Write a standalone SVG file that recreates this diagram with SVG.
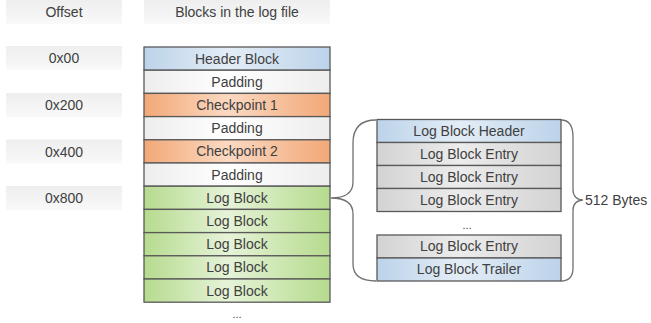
<svg xmlns="http://www.w3.org/2000/svg" width="651" height="323" viewBox="0 0 651 323">
  <defs>
    <linearGradient id="gBlue" x1="0" y1="0" x2="1" y2="0">
      <stop offset="0" stop-color="#bcd3ea"/>
      <stop offset="0.45" stop-color="#e4edf6"/>
      <stop offset="1" stop-color="#bcd3ea"/>
    </linearGradient>
    <linearGradient id="gOrange" x1="0" y1="0" x2="1" y2="0">
      <stop offset="0" stop-color="#f2a877"/>
      <stop offset="0.45" stop-color="#fbd9c2"/>
      <stop offset="1" stop-color="#f2a877"/>
    </linearGradient>
    <linearGradient id="gGreen" x1="0" y1="0" x2="1" y2="0">
      <stop offset="0" stop-color="#b6db8e"/>
      <stop offset="0.45" stop-color="#e6f3d8"/>
      <stop offset="1" stop-color="#b6db8e"/>
    </linearGradient>
    <linearGradient id="gWhite" x1="0" y1="0" x2="1" y2="0">
      <stop offset="0" stop-color="#ededed"/>
      <stop offset="0.45" stop-color="#ffffff"/>
      <stop offset="1" stop-color="#ededed"/>
    </linearGradient>
    <linearGradient id="gGray" x1="0" y1="0" x2="1" y2="0">
      <stop offset="0" stop-color="#d3d3d3"/>
      <stop offset="0.45" stop-color="#ececec"/>
      <stop offset="1" stop-color="#d3d3d3"/>
    </linearGradient>
    <linearGradient id="gLabel" x1="0" y1="0" x2="0" y2="1">
      <stop offset="0" stop-color="#eeeeee"/>
      <stop offset="1" stop-color="#f9f9f9"/>
    </linearGradient>
  </defs>
  <style>
    text { font-family: "Liberation Sans", Arial, sans-serif; font-size: 14px; fill: #404040; text-anchor: middle; }
    .lbl { fill: url(#gLabel); stroke: none; }
    .cell { stroke: #595959; stroke-width: 1.3; }
    .blue { fill: url(#gBlue); }
    .orange { fill: url(#gOrange); }
    .green { fill: url(#gGreen); }
    .white { fill: url(#gWhite); }
    .gray { fill: url(#gGray); }
    .brace { fill: none; stroke: #707070; stroke-width: 1.3; }
  </style>

  <!-- column headings -->
  <g id="heading-offset"><rect class="lbl" x="6" y="0" width="116" height="24"/><text x="64" y="17">Offset</text></g>
  <g id="heading-blocks"><rect class="lbl" x="144" y="0" width="186" height="24"/><text x="237" y="17">Blocks in the log file</text></g>

  <!-- offset labels -->
  <g id="off-0x00"><rect class="lbl" x="6" y="46" width="116" height="24"/><text x="64" y="63">0x00</text></g>
  <g id="off-0x200"><rect class="lbl" x="6" y="93" width="116" height="24"/><text x="64" y="110">0x200</text></g>
  <g id="off-0x400"><rect class="lbl" x="6" y="139.5" width="116" height="24"/><text x="64" y="156.5">0x400</text></g>
  <g id="off-0x800"><rect class="lbl" x="6" y="186" width="116" height="24"/><text x="64" y="203">0x800</text></g>

  <!-- log file block stack -->
  <g id="header-block"><rect class="cell blue" x="144" y="47" width="186" height="23.2"/><text x="237" y="63.5">Header Block</text></g>
  <g id="padding-1"><rect class="cell white" x="144" y="70.2" width="186" height="23.2"/><text x="237" y="86.7">Padding</text></g>
  <g id="checkpoint-1"><rect class="cell orange" x="144" y="93.4" width="186" height="23.2"/><text x="237" y="109.9">Checkpoint 1</text></g>
  <g id="padding-2"><rect class="cell white" x="144" y="116.6" width="186" height="23.2"/><text x="237" y="133.1">Padding</text></g>
  <g id="checkpoint-2"><rect class="cell orange" x="144" y="139.8" width="186" height="23.2"/><text x="237" y="156.3">Checkpoint 2</text></g>
  <g id="padding-3"><rect class="cell white" x="144" y="163" width="186" height="23.2"/><text x="237" y="179.5">Padding</text></g>
  <g id="log-block-1"><rect class="cell green" x="144" y="186.2" width="186" height="23.2"/><text x="237" y="202.7">Log Block</text></g>
  <g id="log-block-2"><rect class="cell green" x="144" y="209.4" width="186" height="23.2"/><text x="237" y="225.9">Log Block</text></g>
  <g id="log-block-3"><rect class="cell green" x="144" y="232.6" width="186" height="23.2"/><text x="237" y="249.1">Log Block</text></g>
  <g id="log-block-4"><rect class="cell green" x="144" y="255.8" width="186" height="23.2"/><text x="237" y="272.3">Log Block</text></g>
  <g id="log-block-5"><rect class="cell green" x="144" y="279" width="186" height="23.2"/><text x="237" y="295.5">Log Block</text></g>
  <text x="237" y="318" style="font-size:11px">...</text>

  <!-- log block detail -->
  <g id="lb-header"><rect class="cell blue" x="377" y="119.5" width="184" height="23"/><text x="469" y="135.8">Log Block Header</text></g>
  <g id="lb-entry-1"><rect class="cell gray" x="377" y="142.5" width="184" height="23"/><text x="469" y="158.8">Log Block Entry</text></g>
  <g id="lb-entry-2"><rect class="cell gray" x="377" y="165.5" width="184" height="23"/><text x="469" y="181.8">Log Block Entry</text></g>
  <g id="lb-entry-3"><rect class="cell gray" x="377" y="188.5" width="184" height="23"/><text x="469" y="204.8">Log Block Entry</text></g>
  <text x="467" y="229" style="font-size:11px">...</text>
  <g id="lb-entry-n"><rect class="cell gray" x="377" y="235" width="184" height="23"/><text x="469" y="251.3">Log Block Entry</text></g>
  <g id="lb-trailer"><rect class="cell blue" x="377" y="258" width="184" height="23"/><text x="469" y="274.3">Log Block Trailer</text></g>

  <!-- braces -->
  <g id="connectors">
    <path class="brace" d="M376,120 C361,120 353,127 353,143 L353,182 C353,193 345,198 331,198 C345,198 353,203 353,214 L353,264 C353,275 361,281 376,281"/>
    <path class="brace" d="M561,120 C569,120 573,125 573,137 L573,190 C573,196 577,200 583,200 C577,200 573,204 573,210 L573,268 C573,276 569,281 561,281"/>
  </g>
  <text x="585" y="205" style="text-anchor:start">512 Bytes</text>
</svg>
